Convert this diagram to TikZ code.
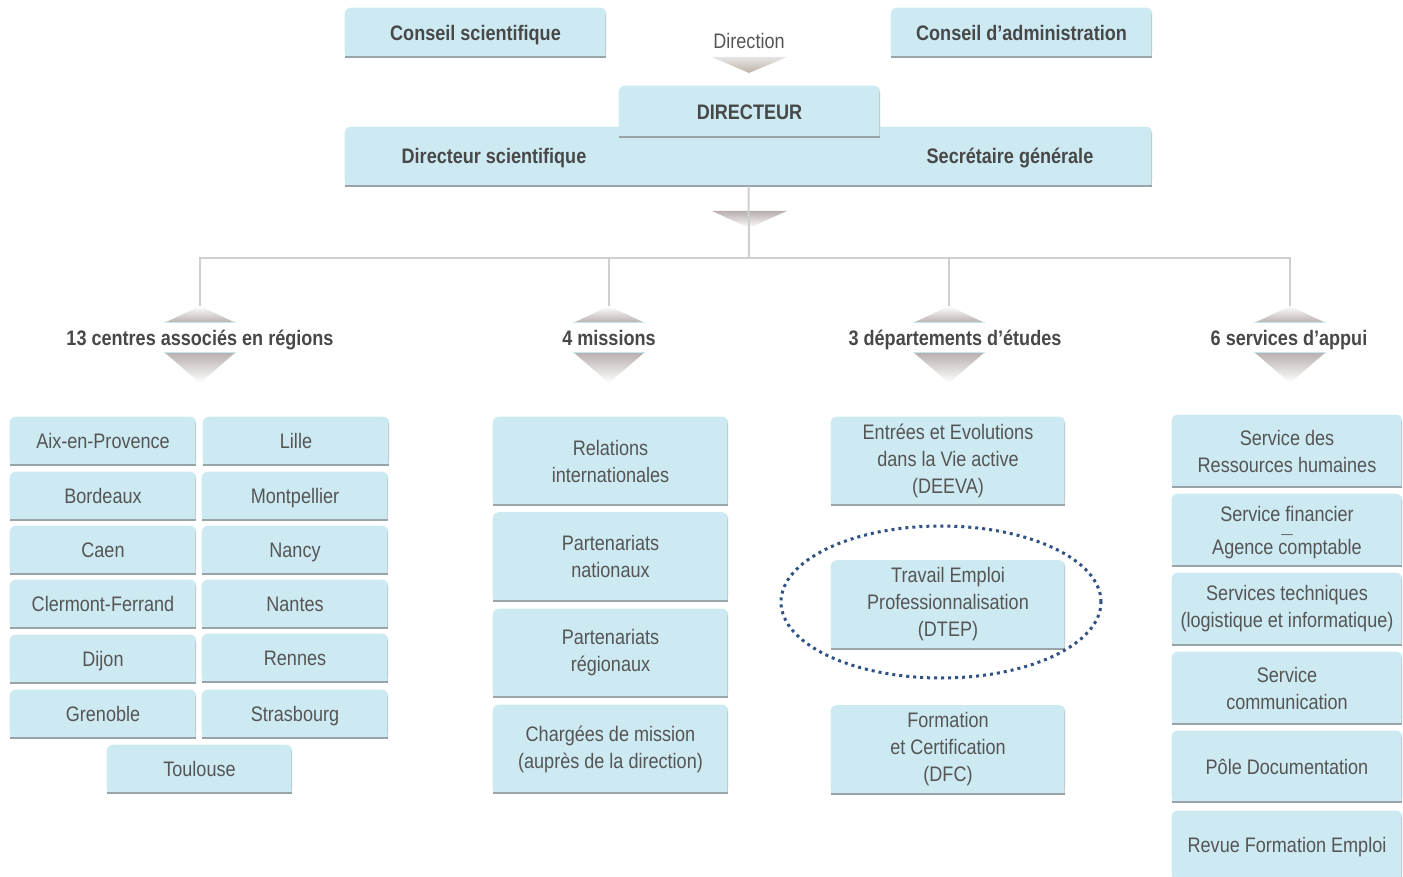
\documentclass[tikz,border=0pt]{standalone}
\usepackage{fontspec}
\setmainfont[FakeStretch=0.86]{Liberation Sans}
\usetikzlibrary{calc,shapes.geometric}
\pgfdeclarelayer{background}
\pgfsetlayers{background,main}
\definecolor{boxfill}{HTML}{CDEAF2}
\definecolor{boxshadow}{HTML}{98A4A8}
\definecolor{txt}{HTML}{555555}
\definecolor{headcol}{HTML}{484848}
\definecolor{conncol}{HTML}{CFCFCF}
\definecolor{ellcol}{HTML}{2F5282}
\definecolor{trigray}{HTML}{B8AEAE}
\definecolor{triline}{HTML}{C4E6EE}

\tikzset{
  every node/.style={text=txt, font=\fontsize{15.75}{20.25}\selectfont},
  orgbox/.style 2 args={rectangle, inner sep=0pt, align=center,
    minimum width=#1*0.75pt, minimum height=#2*0.75pt},
  single/.style={text height=11.3pt, text depth=0pt},
  headtxt/.style={font=\fontsize{15.75}{20.25}\selectfont\bfseries, text=headcol, single},
  conn/.style={draw=conncol, line width=1.5pt},
  ring/.style={ellipse, draw=ellcol, line width=2.25pt, dash pattern=on 2.25pt off 3pt, inner sep=0pt},
}

\newcommand\boxbg[1]{%
  \begin{pgfonlayer}{background}
    \fill[boxfill, rounded corners=4.5pt] (#1.south west) rectangle (#1.north east);
    \fill[boxfill] (#1.south west) rectangle (#1.east);
    \draw[boxshadow!55, line width=0.75pt] ([xshift=-0.4pt,yshift=-4.5pt]#1.north east) -- ([xshift=-0.4pt]#1.south east);
    \draw[boxshadow, line width=1.5pt] (#1.south west) -- (#1.south east);
  \end{pgfonlayer}}

\newcommand\cattri[1]{%
  \shade[top color=white, bottom color=trigray] (#1-36,323) -- (#1+36,323) -- (#1,306) -- cycle;
  \shade[top color=trigray, bottom color=white] (#1-36,352) -- (#1+36,352) -- (#1,383) -- cycle;
  \draw[triline, line width=0.75pt] (#1-36,323) -- (#1+36,323);
  \draw[triline, line width=0.75pt] (#1-36,352) -- (#1+36,352);}

\begin{document}
\begin{tikzpicture}[x=0.75pt, y=-0.75pt]
\useasboundingbox (0,0) rectangle (1403,877);

% ---- top ----
\node[orgbox={261}{49}, headtxt] (cs) at (475.5,32.5) {Conseil scientifique}; \boxbg{cs}
\node[orgbox={261}{49}, headtxt] (ca) at (1021.5,32.5) {Conseil d’administration}; \boxbg{ca}
\node[single] (direction) at (749,41) {Direction};
\shade[top color=gray!20, bottom color=gray!70!brown!60] (712,57) -- (787,57) -- (749,73) -- cycle;

\node[orgbox={807}{59}] (dirbox) at (748.5,156.5) {}; \boxbg{dirbox}
\node[orgbox={261}{51}, headtxt] (dir) at (749.5,111.5) {DIRECTEUR}; \boxbg{dir}
\node[headtxt] (dsci) at (494,156) {Directeur scientifique};
\node[headtxt] (sg) at (1010,156) {Secrétaire générale};

% ---- connectors ----
\shade[top color=trigray, bottom color=white] (712,211) -- (787,211) -- (749,228) -- cycle;
\coordinate (j) at (749,258);
\coordinate (a1) at (200,307);
\coordinate (a2) at (609,307);
\coordinate (a3) at (949,307);
\coordinate (a4) at (1290,307);
\draw[conn] (dirbox.south) -- (j);
\draw[conn] (a1) -- (a1 |- j) -- (a4 |- j) -- (a4);
\draw[conn] (a2) -- (a2 |- j);
\draw[conn] (a3) -- (a3 |- j);

\cattri{200}\cattri{609}\cattri{949}\cattri{1290}
\node[headtxt] (cat1) at (200,338) {13 centres associés en régions};
\node[headtxt] (cat2) at (609,338) {4 missions};
\node[headtxt] (cat3) at (955,338) {3 départements d’études};
\node[headtxt] (cat4) at (1289,338) {6 services d’appui};

% ---- centres ----
\node[orgbox={186}{48}, single] (aix) at (103,441) {Aix-en-Provence}; \boxbg{aix}
\node[orgbox={186}{48}, single] (lil) at (296,441) {Lille}; \boxbg{lil}
\node[orgbox={186}{48}, single] (bor) at (103,496) {Bordeaux}; \boxbg{bor}
\node[orgbox={186}{48}, single] (mon) at (295,496) {Montpellier}; \boxbg{mon}
\node[orgbox={186}{48}, single] (cae) at (103,550) {Caen}; \boxbg{cae}
\node[orgbox={186}{48}, single] (nan) at (295,550) {Nancy}; \boxbg{nan}
\node[orgbox={186}{48}, single] (cle) at (103,604) {Clermont-Ferrand}; \boxbg{cle}
\node[orgbox={186}{48}, single] (nts) at (295,604) {Nantes}; \boxbg{nts}
\node[orgbox={186}{48}, single] (dij) at (103,659) {Dijon}; \boxbg{dij}
\node[orgbox={186}{48}, single] (ren) at (295,658) {Rennes}; \boxbg{ren}
\node[orgbox={186}{48}, single] (gre) at (103,714) {Grenoble}; \boxbg{gre}
\node[orgbox={186}{48}, single] (str) at (295,714) {Strasbourg}; \boxbg{str}
\node[orgbox={185}{48}, single] (tou) at (199.5,769) {Toulouse}; \boxbg{tou}

% ---- missions ----
\node[orgbox={235}{88}] (ri) at (610.5,461) {Relations\\internationales}; \boxbg{ri}
\node[orgbox={235}{88}] (pn) at (610.5,556.5) {Partenariats\\nationaux}; \boxbg{pn}
\node[orgbox={235}{88}] (pr) at (610.5,653) {Partenariats\\régionaux}; \boxbg{pr}
\node[orgbox={235}{88}] (cm) at (610.5,749) {Chargées de mission\\(auprès de la direction)}; \boxbg{cm}

% ---- departements ----
\node[orgbox={234}{88}] (deeva) at (948,461) {Entrées et Evolutions\\dans la Vie active\\(DEEVA)}; \boxbg{deeva}
\node[orgbox={234}{88}] (dtep) at (948,604.5) {Travail Emploi\\Professionnalisation\\(DTEP)}; \boxbg{dtep}
\node[orgbox={234}{88}] (dfc) at (948,749.5) {Formation\\et Certification\\(DFC)}; \boxbg{dfc}
\node[ring, minimum width=240pt, minimum height=114pt] (ring) at (941,602) {};

% ---- services ----
\node[orgbox={230}{72}] (srh) at (1287,451) {Service des\\Ressources humaines}; \boxbg{srh}
\node[orgbox={230}{72}] (sfi) at (1287,530) {Service financier\\[4.5pt]\ooalign{Agence comptable\cr\hidewidth\raisebox{12pt}{\fontsize{10}{10}\selectfont —}\hidewidth\cr}}; \boxbg{sfi}
\node[orgbox={230}{72}] (stech) at (1287,609) {Services techniques\\(logistique et informatique)}; \boxbg{stech}
\node[orgbox={230}{72}] (scom) at (1287,688) {Service\\communication}; \boxbg{scom}
\node[orgbox={230}{71}, single] (pdoc) at (1287,766.5) {Pôle Documentation}; \boxbg{pdoc}
\node[orgbox={230}{68}, single] (rfe) at (1287,845) {Revue Formation Emploi}; \boxbg{rfe}
\end{tikzpicture}
\end{document}
